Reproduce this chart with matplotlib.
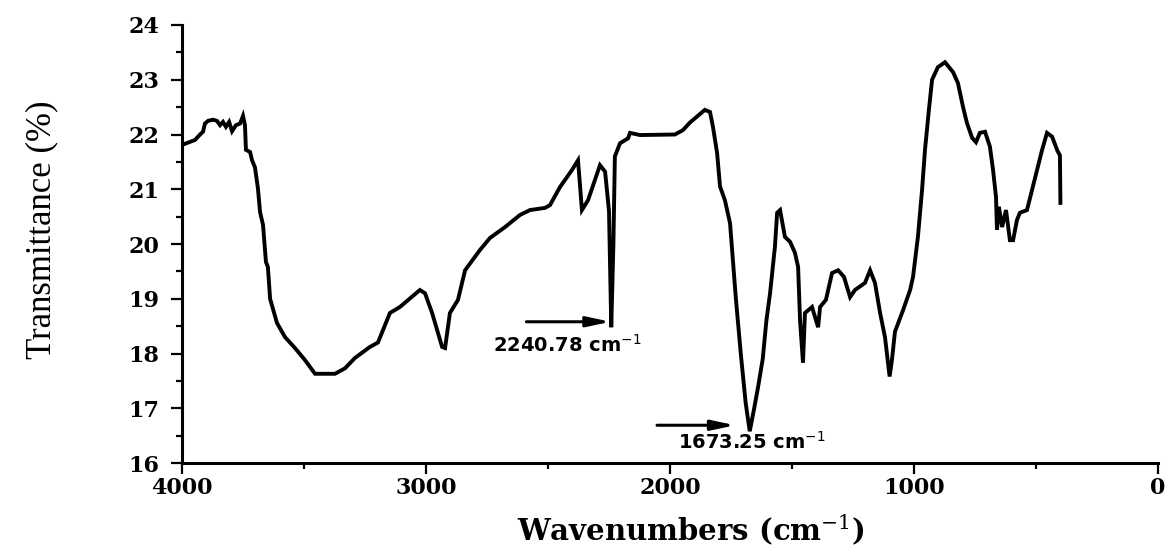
import numpy as np
import matplotlib
matplotlib.use("Agg")
import matplotlib.pyplot as plt
from matplotlib.ticker import MultipleLocator

# FTIR spectrum (wavenumber in cm-1, transmittance in %)
wavenumber = [
    4000, 3947, 3926, 3914, 3906, 3893, 3873, 3857, 3844, 3832,
    3820, 3807, 3795, 3779, 3762, 3750, 3742, 3738, 3721, 3713,
    3701, 3689, 3680, 3668, 3656, 3648, 3639, 3611, 3578, 3537,
    3496, 3455, 3373, 3332, 3291, 3230, 3197, 3148, 3107, 3025,
    3004, 2975, 2934, 2922, 2902, 2869, 2840, 2779, 2738, 2676,
    2615, 2574, 2512, 2492, 2451, 2402, 2377, 2361, 2336, 2287,
    2266, 2250, 2240.78, 2232, 2226, 2205, 2172, 2164, 2123, 1980,
    1947, 1918, 1857, 1836, 1824, 1807, 1795, 1775, 1754, 1742,
    1730, 1710, 1690, 1673.25, 1655, 1639, 1620, 1605, 1590, 1570,
    1561, 1549, 1529, 1508, 1488, 1475, 1467, 1455, 1447, 1418,
    1393, 1385, 1361, 1336, 1311, 1287, 1262, 1242, 1201, 1180,
    1160, 1139, 1119, 1100, 1090, 1078, 1045, 1016, 1004, 984,
    967, 955, 939, 926, 902, 873, 840, 820, 799, 783,
    762, 746, 730, 709, 689, 676, 664, 660, 652, 639,
    623, 607, 594, 578, 566, 537, 516, 496, 475, 455,
    434, 412, 402, 400,
]
transmittance = [
    21.81, 21.90, 22.00, 22.05, 22.20, 22.25, 22.27, 22.25, 22.17, 22.23,
    22.14, 22.23, 22.06, 22.17, 22.20, 22.34, 22.17, 21.72, 21.68, 21.53,
    21.40, 21.02, 20.58, 20.35, 19.67, 19.58, 19.00, 18.56, 18.30, 18.10,
    17.88, 17.63, 17.63, 17.73, 17.92, 18.12, 18.20, 18.74, 18.85, 19.16,
    19.10, 18.74, 18.12, 18.10, 18.74, 18.98, 19.52, 19.89, 20.11, 20.31,
    20.53, 20.62, 20.66, 20.71, 21.04, 21.35, 21.53, 20.62, 20.80, 21.44,
    21.32, 20.60, 18.48, 20.00, 21.60, 21.84, 21.93, 22.03, 21.99, 22.00,
    22.08, 22.22, 22.45, 22.41, 22.14, 21.66, 21.05, 20.80, 20.38, 19.70,
    19.00, 18.00, 17.10, 16.58, 17.00, 17.39, 17.90, 18.60, 19.10, 19.95,
    20.57, 20.62, 20.13, 20.04, 19.84, 19.58, 18.60, 17.83, 18.74, 18.85,
    18.48, 18.85, 18.98, 19.47, 19.52, 19.40, 19.03, 19.16, 19.29, 19.52,
    19.29, 18.74, 18.30, 17.58, 17.90, 18.40, 18.79, 19.16, 19.40, 20.13,
    20.99, 21.72, 22.45, 23.00, 23.23, 23.32, 23.14, 22.94, 22.50, 22.21,
    21.94, 21.86, 22.03, 22.05, 21.78, 21.35, 20.86, 20.26, 20.68, 20.31,
    20.62, 20.07, 20.07, 20.44, 20.57, 20.62, 20.99, 21.35, 21.72, 22.03,
    21.96, 21.70, 21.62, 20.75,
]

# labelled absorption bands
peak_wn = [2240.78, 1673.25]
peak_labels = ["2240.78 cm$^{-1}$", "1673.25 cm$^{-1}$"]

x_ticks = [4000, 3000, 2000, 1000, 0]
y_ticks = [16, 17, 18, 19, 20, 21, 22, 23, 24]

fig = plt.figure(figsize=(11.69, 5.53), dpi=100)
ax = fig.add_axes([0.1557, 0.1627, 0.8349, 0.7921])

ax.plot(wavenumber, transmittance, color="black", lw=2.8, solid_joinstyle="miter")

ax.set_xlim(4000, 0)
ax.set_ylim(16, 24)
ax.set_xticks(x_ticks)
ax.set_yticks(y_ticks)
ax.xaxis.set_minor_locator(MultipleLocator(500))
ax.yaxis.set_minor_locator(MultipleLocator(0.5))

for side in ["top", "right"]:
    ax.spines[side].set_visible(False)
for side in ["left", "bottom"]:
    ax.spines[side].set_linewidth(2.2)

ax.tick_params(which="major", direction="out", length=8, width=1.6)
ax.tick_params(which="minor", direction="out", length=4.5, width=1.6)
ax.tick_params(axis="x", pad=2)
ax.tick_params(axis="y", pad=8)
for lab in ax.get_xticklabels() + ax.get_yticklabels():
    lab.set_fontfamily("DejaVu Serif")
    lab.set_fontweight("bold")
    lab.set_fontsize(16)

ax.set_xlabel("Wavenumbers (cm$^{-1}$)", fontfamily="DejaVu Serif",
              fontweight="bold", fontsize=21, va="top",
              math_fontfamily="dejavuserif")
ax.xaxis.set_label_coords(0.5215, -0.112)
ax.set_ylabel("Transmittance (%)", fontfamily="Liberation Serif",
              fontsize=25, va="center")
ax.yaxis.set_label_coords(-0.1434, 0.532)

# arrows pointing at the two bands, labels underneath
arrow_y = [18.58, 16.69]
arrow_len = [345, 320]
tip_gap = [3, 60]
text_x = [2725, 1967]
text_y = [18.16, 16.38]
for wn, lab, ay, al, gap, tx, ty in zip(peak_wn, peak_labels, arrow_y,
                                         arrow_len, tip_gap, text_x, text_y):
    ax.annotate("", xy=(wn + gap, ay), xytext=(wn + gap + al, ay),
                arrowprops=dict(arrowstyle="-|>,head_length=0.7,head_width=0.15",
                                lw=2.2, color="black", mutation_scale=20,
                                shrinkA=0, shrinkB=0))
    ax.text(tx, ty, lab, fontfamily="DejaVu Sans", fontweight="bold",
            fontsize=14, ha="left", va="center", math_fontfamily="dejavusans")

fig.savefig("out.png", dpi=100)
